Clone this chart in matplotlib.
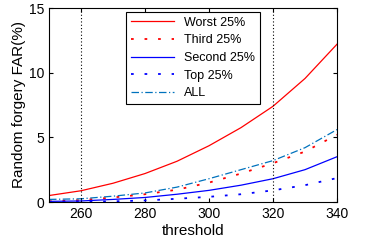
import matplotlib
matplotlib.use("Agg")
import matplotlib.pyplot as plt

plt.rcParams['font.family'] = ['Liberation Sans', 'DejaVu Sans']

# threshold values and FAR (%) curves
threshold = [250, 260, 270, 280, 290, 300, 310, 320, 330, 340]
worst = [0.5, 0.87, 1.45, 2.2, 3.15, 4.35, 5.75, 7.4, 9.55, 12.2]
third = [0.05, 0.15, 0.35, 0.6, 0.95, 1.5, 2.2, 3.0, 3.9, 5.2]
second = [0.05, 0.08, 0.2, 0.35, 0.6, 0.9, 1.3, 1.8, 2.5, 3.5]
top = [0.0, 0.02, 0.05, 0.12, 0.25, 0.4, 0.6, 0.9, 1.3, 1.85]
all_users = [0.2, 0.25, 0.45, 0.7, 1.15, 1.8, 2.5, 3.2, 4.2, 5.6]
markers_x = [260, 320]

fig = plt.figure(figsize=(3.72, 2.44), dpi=100)
ax = fig.add_axes([49 / 372, 42 / 244, 288 / 372, 194 / 244])

ax.plot(threshold, worst, color='red', lw=0.9, label='Worst 25%')
ax.plot(threshold, third, color='red', lw=1.3, linestyle=(0, (1.5, 6)), label='Third 25%')
ax.plot(threshold, second, color='blue', lw=0.9, label='Second 25%')
ax.plot(threshold, top, color='blue', lw=1.3, linestyle=(0, (1.5, 6)), label='Top 25%')
ax.plot(threshold, all_users, color='#0072BD', lw=0.9, linestyle=(0, (6, 2, 1, 2)), label='ALL')

for xv in markers_x:
    ax.axvline(xv, color='black', lw=0.8, linestyle=(0, (1, 2)))

ax.set_xlim(250, 340)
ax.set_ylim(0, 15)
ax.set_xticks([260, 280, 300, 320, 340])
ax.set_yticks([0, 5, 10, 15])
ax.tick_params(direction='in', top=True, right=True, labelsize=10, length=3)
ax.set_xlabel('threshold', fontsize=11, labelpad=2)
ax.set_ylabel('Random forgery FAR(%)', fontsize=11, labelpad=2)

leg = ax.legend(loc='upper center', bbox_to_anchor=(0.5, 1.0), fontsize=9,
                fancybox=False, edgecolor='black', framealpha=1,
                handlelength=3.5, borderpad=0.4, labelspacing=0.45, borderaxespad=0.3)
leg.get_frame().set_linewidth(0.8)

fig.savefig('out.png', dpi=100)
